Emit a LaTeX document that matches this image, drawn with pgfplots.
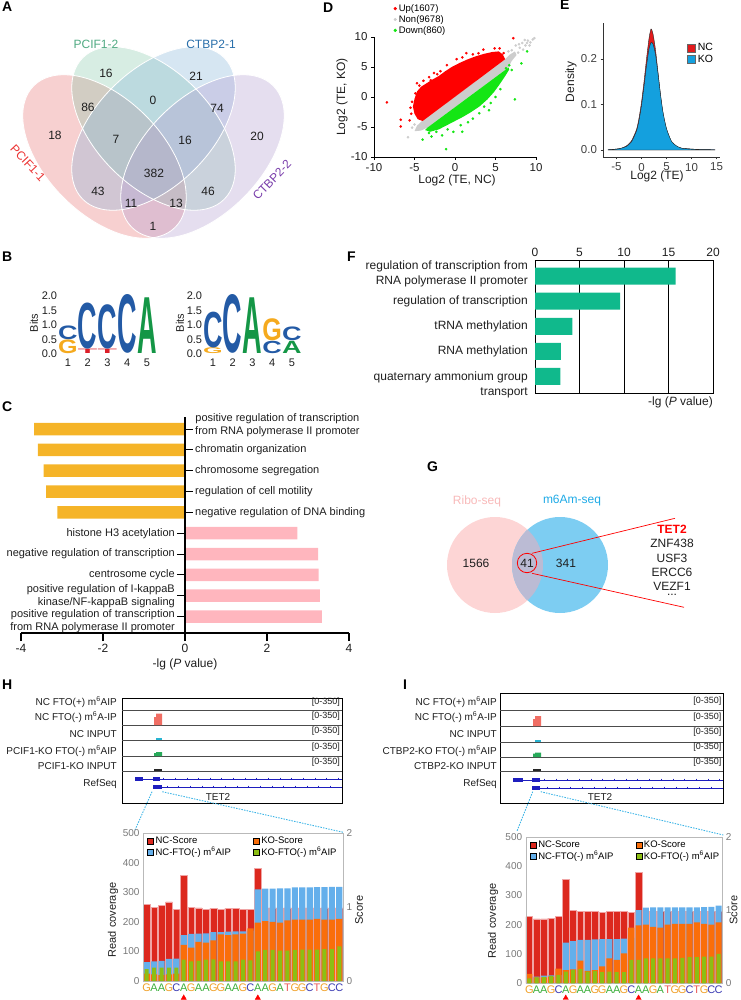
\documentclass[border=0pt]{standalone}
\usepackage{pgfplots}
\pgfplotsset{compat=1.18}
\usepackage{pgfplotstable}
\usepackage{fontspec}
\setmainfont{Liberation Sans}
\usepackage{graphicx}

\definecolor{vpink}{RGB}{230,112,112}
\definecolor{vgreen}{RGB}{135,200,169}
\definecolor{vblue}{RGB}{132,179,217}
\definecolor{vpurple}{RGB}{176,155,207}
\definecolor{tpink}{RGB}{235,50,50}
\definecolor{tgreen}{RGB}{80,170,130}
\definecolor{tblue}{RGB}{40,110,170}
\definecolor{tpurple}{RGB}{120,60,170}
\definecolor{dred}{RGB}{255,0,0}
\definecolor{dgrey}{RGB}{205,205,205}
\definecolor{dgreen}{RGB}{20,230,20}
\definecolor{ncred}{RGB}{227,26,28}
\definecolor{koblue}{RGB}{20,160,222}
\definecolor{lC}{RGB}{35,90,165}
\definecolor{lG}{RGB}{245,170,30}
\definecolor{lT}{RGB}{220,30,40}
\definecolor{lA}{RGB}{20,150,70}
\definecolor{corange}{RGB}{245,180,40}
\definecolor{cpink}{RGB}{255,182,190}
\definecolor{fteal}{RGB}{16,185,140}
\definecolor{gpink}{RGB}{253,213,213}
\definecolor{gblue}{RGB}{125,205,242}
\definecolor{glens}{RGB}{187,187,212}
\definecolor{gtxtpink}{RGB}{248,185,185}
\definecolor{gtxtblue}{RGB}{30,170,230}
\definecolor{bred}{RGB}{220,40,30}
\definecolor{bblue}{RGB}{100,175,235}
\definecolor{borange}{RGB}{250,110,10}
\definecolor{bgreen}{RGB}{140,190,20}
\definecolor{bedge}{RGB}{240,165,165}
\definecolor{sG}{RGB}{240,160,40}
\definecolor{sA}{RGB}{60,175,60}
\definecolor{sC}{RGB}{60,60,180}
\definecolor{sT}{RGB}{235,90,90}
\definecolor{tk}{RGB}{120,120,120}
\definecolor{refblue}{RGB}{30,30,190}
\definecolor{dashblue}{RGB}{60,180,230}
\definecolor{pkred}{RGB}{240,110,100}
\definecolor{pkcyan}{RGB}{40,180,210}
\definecolor{pkgreen}{RGB}{40,170,90}
\definecolor{txt}{RGB}{30,30,30}

\newcommand\fs[2]{\fontsize{#1}{#2}\selectfont}
\newcommand\plab[3]{\node[anchor=north west, inner sep=0pt, font=\fs{14}{14}\bfseries] at (#1,-#2) {#3};}
\newcommand\LL[5]{\node[anchor=south, inner sep=0pt, text=#5] at (axis cs:#1,#2) {\resizebox{19.5pt}{#3pt}{\bfseries #4}};}
\newcommand\sqG{\textcolor{sG}{G}}
\newcommand\sqA{\textcolor{sA}{A}}
\newcommand\sqC{\textcolor{sC}{C}}
\newcommand\sqT{\textcolor{sT}{T}}
\newcommand\mA{m\textsuperscript{6}A}

\pgfplotsset{every axis/.append style={/pgf/number format/assume math mode=true},
  Hb/.style={at={(143pt,-981pt)}, anchor=south west, scale only axis, width=200pt, height=148pt, xmin=0.5, xmax=27.5},
  Ib/.style={at={(525.7pt,-983.3pt)}, anchor=south west, scale only axis, width=196.6pt, height=146.6pt, xmin=0.5, xmax=27.5},
  sc/.style={ymin=0, ymax=2},
  cv/.style={ymin=0, ymax=500},
  covaxis/.style={clip=false, axis line style={draw=gray!55}, ytick={0,100,...,500}, ytick pos=left, major tick length=0pt,
    xtick={1,...,27},
    xticklabels={\sqG,\sqA,\sqA,\sqG,\sqC,\sqA,\sqG,\sqA,\sqA,\sqG,\sqG,\sqA,\sqA,\sqG,\sqC,\sqA,\sqA,\sqG,\sqA,\sqT,\sqG,\sqG,\sqC,\sqT,\sqG,\sqC,\sqC},
    xticklabel style={font=\fs{11}{12}, yshift=1pt},
    yticklabel style={font=\fs{10}{11}, text=tk},
    legend columns=2, legend cell align=left,
    legend style={at={(axis description cs:0.015,0.995)}, anchor=north west, draw=none, fill=none, font=\fs{9.5}{10}, inner sep=1pt, row sep=-2pt, /tikz/every even column/.append style={column sep=20pt}},
    legend image code/.code={\fill[##1] (0pt,-3pt) rectangle (6pt,3pt);}},
  scaxis/.style={hide x axis, axis y line*=right, axis line style={draw=gray!55}, ytick={0,1,2}, major tick length=0pt, yticklabel style={font=\fs{10}{11}, text=tk}},
}

\pgfplotstableread{
pos ncs kos ncf kof
1 1.04 0.10 64 40
2 1.00 0.09 66 45
3 1.02 0.08 68 45
4 1.07 0.09 75 45
5 0.97 0.10 76 45
6 1.43 0.49 155 72
7 1.00 0.45 159 66
8 0.99 0.53 160 68
9 0.97 0.52 161 72
10 0.98 0.55 165 73
11 0.97 0.63 165 66
12 0.98 0.62 167 66
13 0.98 0.63 168 66
14 0.97 0.64 168 72
15 0.97 0.71 170 70
16 1.52 0.79 310 100
17 0.99 0.81 312 105
18 0.99 0.80 312 105
19 0.99 0.79 313 103
20 0.99 0.82 313 103
21 0.99 0.83 316 105
22 0.99 0.83 316 106
23 0.99 0.83 316 106
24 0.99 0.84 317 106
25 0.99 0.83 317 108
26 0.99 0.83 318 108
27 0.99 0.84 318 117
}\Hdata

\pgfplotstableread{
pos ncs kos ncf kof
1 0.91 0.13 23 17
2 0.88 0.08 23 20
3 0.88 0.08 26 22
4 0.89 0.09 27 25
5 0.91 0.20 28 28
6 1.42 0.18 139 40
7 1.00 0.19 144 45
8 0.98 0.31 148 48
9 0.98 0.17 148 40
10 0.98 0.18 150 42
11 0.97 0.23 151 38
12 0.98 0.34 151 40
13 0.98 0.32 151 38
14 0.98 0.41 152 38
15 0.97 0.76 155 80
16 1.51 0.79 250 80
17 0.98 0.80 258 85
18 0.98 0.77 259 85
19 0.98 0.76 259 85
20 0.98 0.80 259 85
21 0.98 0.81 259 85
22 0.98 0.81 259 87
23 0.98 0.81 259 89
24 0.98 0.83 259 89
25 0.98 0.81 260 91
26 0.98 0.80 261 91
27 0.98 0.83 265 100
}\Idata

\begin{document}
\begin{tikzpicture}[x=1pt,y=1pt]
\path[use as bounding box] (0,0) rectangle (740,-1000);

%%%%%%%%%%%%%%%% A %%%%%%%%%%%%%%%%
\plab{2}{2}{A}
\fill[vpink, fill opacity=.33, rotate around={-45:(104.5,-156.5)}] (104.5,-156.5) ellipse (100 and 58);
\fill[vgreen, fill opacity=.33, rotate around={-45:(153.5,-128.5)}] (153.5,-128.5) ellipse (100 and 58);
\fill[vblue, fill opacity=.33, rotate around={45:(153.5,-128.5)}] (153.5,-128.5) ellipse (100 and 58);
\fill[vpurple, fill opacity=.33, rotate around={45:(202.5,-156.5)}] (202.5,-156.5) ellipse (100 and 58);
\draw[white, line width=0.8pt, rotate around={-45:(104.5,-156.5)}] (104.5,-156.5) ellipse (100 and 58);
\draw[white, line width=0.8pt, rotate around={-45:(153.5,-128.5)}] (153.5,-128.5) ellipse (100 and 58);
\draw[white, line width=0.8pt, rotate around={45:(153.5,-128.5)}] (153.5,-128.5) ellipse (100 and 58);
\draw[white, line width=0.8pt, rotate around={45:(202.5,-156.5)}] (202.5,-156.5) ellipse (100 and 58);
\foreach \x/\y/\t in {106/73/16, 196/76/21, 88/107/86, 153/100/0, 217/108/74, 55/135/18, 116/139/7, 185/140/16, 257/136/20, 154/173/382, 98/191/43, 208/191/46, 131/203/11, 176/203/13, 153/226/1}
  \node[font=\fs{12}{14}, text=txt] at (\x,-\y) {\t};
\node[font=\fs{12}{14}, text=tgreen] at (96,-44) {PCIF1-2};
\node[font=\fs{12}{14}, text=tblue] at (211,-44) {CTBP2-1};
\node[font=\fs{12}{14}, text=tpink, rotate=-47] at (28,-163) {PCIF1-1};
\node[font=\fs{12}{14}, text=tpurple, rotate=46] at (272,-180) {CTBP2-2};

%%%%%%%%%%%%%%%% D %%%%%%%%%%%%%%%%
\plab{323}{3}{D}
\begin{axis}[at={(374pt,-157pt)}, anchor=south west, scale only axis, width=162pt, height=120pt,
  xmin=-10, xmax=10, ymin=-10, ymax=10, axis x line*=bottom, axis y line*=left, axis line style={-, line width=0.6pt},
  xtick={-10,-5,0,5,10}, ytick={-10,-5,0,5,10}, tick align=outside, major tick length=3pt, tick style={line width=0.6pt, black},
  ticklabel style={font=\fs{11.5}{12}, text=txt}, clip=false,
  legend style={at={(axis description cs:0.12,1.29)}, anchor=north west, draw=none, fill=none, font=\fs{9.5}{10}, inner sep=0pt, row sep=-1.5pt},
  legend cell align=left,
  legend image code/.code={\fill[#1] (3pt,0pt) circle (1.4pt);}]
\addlegendimage{dred}
\addlegendimage{dgrey}
\addlegendimage{dgreen}
\addplot[fill=dgrey, draw=none, forget plot] coordinates {(-5.0,-5.7) (-4.7,-4.8) (-4.1,-4.0) (6.2,6.3) (6.8,7.1) (7.4,7.6) (7.6,7.0) (7.0,6.0) (6.6,4.9) (-3.4,-5.1) (-4.2,-5.6)} -- cycle;
\addplot[fill=dred, draw=none, forget plot] coordinates {(-4.0,-4.0) (-4.6,-3.7) (-5.0,-2.8) (-5.2,-1.6) (-5.0,-0.3) (-4.7,0.9) (-4.2,1.7) (-3.5,2.3) (-2.8,2.9) (-2.0,3.5) (-1.2,4.3) (-0.4,5.0) (0.6,5.7) (1.6,6.3) (2.6,6.8) (3.6,7.2) (4.6,7.5) (5.4,7.6) (5.9,7.1) (6.2,6.3)} -- cycle;
\addplot[fill=dgreen, draw=none, forget plot] coordinates {(-3.4,-5.1) (-3.7,-5.5) (-3.1,-5.8) (-2.0,-5.4) (-1.0,-4.7) (0,-4.0) (1.0,-3.3) (2.0,-2.5) (3.0,-1.6) (4.0,-0.4) (4.8,0.8) (5.5,2.1) (6.2,3.5) (6.7,4.6) (6.6,4.9)} -- cycle;
\addplot[only marks, mark=*, mark size=1.1pt, dgrey, forget plot] coordinates {(-5.8,-6.7) (-5.3,-5.1) (-4.5,-5.4) (-5.0,-4.6) (7.0,7.8) (7.5,8.6) (8.0,8.2) (8.3,9.0) (8.7,8.6) (9.0,9.4) (9.3,9.1) (9.6,9.6) (9.8,9.8) (8.6,9.5) (7.8,7.4) (7.2,6.8) (9.2,8.6) (6.6,7.6) (8.4,7.9) (7.9,8.8) (8.9,9.0)};
\addplot[only marks, mark=*, mark size=1.1pt, dred, forget plot] coordinates {(-8.4,-0.9) (-6.7,-3.8) (-6.7,-4.9) (-5.6,-3.9) (-5.4,-2.8) (-5.5,-1.8) (-4.9,0.6) (-4.7,2.3) (-3.9,2.7) (-3.2,3.3) (-2.6,4.0) (-1.8,4.3) (-1.0,5.3) (0.2,6.3) (1.4,7.3) (2.2,7.1) (2.9,7.3) (3.5,7.9) (4.5,7.0) (4.9,8.1) (5.5,8.1) (6.0,7.3) (7.2,9.8) (-3.0,2.8) (0.9,6.6) (-2.2,3.8) (-5.3,-0.8) (-4.4,1.9)};
\addplot[only marks, mark=*, mark size=1.1pt, dgreen, forget plot] coordinates {(-1.1,-8.7) (-4.0,-7.1) (7.4,-0.4) (8.9,7.6) (8.2,5.6) (-2.3,-5.8) (-0.9,-5.4) (-0.2,-5.8) (0.7,-4.7) (1.6,-4.2) (2.2,-3.6) (3.0,-2.7) (3.6,-1.6) (4.4,-1.0) (5.0,0.0) (5.6,1.3) (6.3,4.8) (6.7,5.3) (7.0,4.5) (-3.2,-6.0) (-1.6,-6.4) (4.2,-2.2) (0.9,-5.8) (-2.9,-6.6)};
\legend{Up(1607), Non(9678), Down(860)}
\end{axis}
\node[font=\fs{12}{14}, text=txt] at (457,-180) {Log2 (TE, NC)};
\node[font=\fs{12}{14}, text=txt, rotate=90] at (342,-97) {Log2 (TE, KO)};

%%%%%%%%%%%%%%%% E %%%%%%%%%%%%%%%%
\plab{560}{0}{E}
\begin{axis}[at={(603pt,-157pt)}, anchor=south west, scale only axis, width=117pt, height=134pt,
  xmin=-7.7, xmax=15.7, ymin=-0.0154, ymax=0.2791, axis x line*=bottom, axis y line*=left,
  axis line style={-, line width=0.7pt, black!80},
  xtick={-5,0,5,10,15}, ytick={0,0.1,0.2}, tick align=outside, major tick length=2.5pt, tick style={black!80},
  yticklabel style={/pgf/number format/fixed, /pgf/number format/fixed zerofill, /pgf/number format/precision=1},
  ticklabel style={font=\fs{11.5}{12}, text=black!75},
  legend style={at={(axis description cs:0.72,0.865)}, anchor=north west, draw=none, fill=none, font=\fs{10.5}{11}, inner sep=0pt, row sep=-1pt},
  legend cell align=left,
  legend image code/.code={\draw[#1, line width=0.4pt] (0pt,-4pt) rectangle (8pt,4pt);}]
\addlegendimage{fill=ncred, draw=black!60}
\addlegendimage{fill=koblue, draw=black!60}
\addplot[fill=ncred, draw=black!85, line width=0.4pt, smooth, tension=0.4, forget plot] coordinates {(-6.7,0.0005) (-5,0.002) (-4,0.004) (-3,0.009) (-2,0.02) (-1,0.045) (-0.5,0.07) (0,0.105) (0.5,0.15) (1,0.2) (1.5,0.245) (1.9,0.266) (2.3,0.255) (2.8,0.22) (3.3,0.17) (3.8,0.12) (4.3,0.08) (5,0.045) (6,0.018) (7,0.008) (8,0.004) (10,0.002) (12,0.001) (14.7,0.0005)} \closedcycle;
\addplot[fill=koblue, draw=black!85, line width=0.4pt, smooth, tension=0.4, forget plot] coordinates {(-6.7,0.0005) (-5,0.002) (-4,0.004) (-3,0.008) (-2,0.018) (-1,0.042) (-0.5,0.065) (0,0.098) (0.5,0.14) (1,0.185) (1.5,0.222) (1.9,0.236) (2.3,0.233) (2.8,0.21) (3.3,0.168) (3.8,0.122) (4.3,0.083) (5,0.047) (6,0.019) (7,0.009) (8,0.004) (10,0.002) (12,0.001) (14.7,0.0005)} \closedcycle;
\legend{NC, KO}
\end{axis}
\node[font=\fs{12}{14}, text=txt, rotate=90] at (571,-82) {Density};
\node[font=\fs{12}{14}, text=txt] at (657,-176) {Log2 (TE)};

%%%%%%%%%%%%%%%% B %%%%%%%%%%%%%%%%
\plab{2}{252}{B}
\begin{axis}[at={(58.1pt,-354pt)}, anchor=south west, scale only axis, width=98.75pt, height=58pt,
  xmin=0.5, xmax=5.5, ymin=0, ymax=2, axis line style={draw=none}, major tick length=0pt,
  xtick={1,2,3,4,5}, ytick={0,0.5,1,1.5,2},
  yticklabel style={/pgf/number format/fixed, /pgf/number format/fixed zerofill, /pgf/number format/precision=1, xshift=2.5pt},
  xticklabel style={yshift=-1pt},
  ticklabel style={font=\fs{11}{12}, text=txt}, clip=false]
\LL{1}{0}{13.6}{G}{lG}
\LL{1}{0.5}{13.6}{C}{lC}
\LL{2}{0}{4.4}{T}{lT}
\LL{2}{0.15}{45.5}{C}{lC}
\LL{3}{0}{4.4}{T}{lT}
\LL{3}{0.15}{43.8}{C}{lC}
\LL{4}{0}{58}{C}{lC}
\LL{5}{0}{55.7}{A}{lA}
\end{axis}
\node[font=\fs{11}{12}, text=txt, rotate=90] at (34,-323) {Bits};
\begin{axis}[at={(203.1pt,-354pt)}, anchor=south west, scale only axis, width=98.75pt, height=58pt,
  xmin=0.5, xmax=5.5, ymin=0, ymax=2, axis line style={draw=none}, major tick length=0pt,
  xtick={1,2,3,4,5}, ytick={0,0.5,1,1.5,2},
  yticklabel style={/pgf/number format/fixed, /pgf/number format/fixed zerofill, /pgf/number format/precision=1, xshift=2.5pt},
  xticklabel style={yshift=-1pt},
  ticklabel style={font=\fs{11}{12}, text=txt}, clip=false]
\LL{1}{0}{5.8}{G}{lG}
\LL{1}{0.2}{35.4}{C}{lC}
\LL{2}{0}{58}{C}{lC}
\LL{3}{0}{55.7}{A}{lA}
\LL{4}{0}{12.2}{C}{lC}
\LL{4}{0.45}{21.8}{G}{lG}
\LL{5}{0}{12.2}{A}{lA}
\LL{5}{0.45}{13.6}{C}{lC}
\end{axis}
\node[font=\fs{11}{12}, text=txt, rotate=90] at (180,-323) {Bits};

%%%%%%%%%%%%%%%% F %%%%%%%%%%%%%%%%
\plab{347}{252}{F}
\begin{axis}[at={(535pt,-393pt)}, anchor=south west, scale only axis, width=178pt, height=133pt,
  xmin=0, xmax=20, ymin=-5.66, ymax=-0.36, xtick={0,5,10,15,20}, xtick pos=right, xticklabel pos=right,
  major tick length=0pt, ytick=\empty, xmajorgrids, grid style={black, line width=0.6pt},
  axis line style={line width=0.8pt}, ticklabel style={font=\fs{12}{12}, text=txt}]
\addplot[xbar, bar shift=0pt, bar width=17pt, fill=fteal, draw=none] coordinates {(15.8,-1) (9.55,-2) (4.2,-3) (2.9,-4) (2.85,-5)};
\end{axis}
\begin{scope}[every node/.style={font=\fs{12}{15}, text=txt, anchor=east, inner sep=0pt, align=right}]
\node at (528,-274) {regulation of transcription from\\RNA polymerase II promoter};
\node at (528,-301.2) {regulation of transcription};
\node at (528,-326.3) {tRNA methylation};
\node at (528,-351.4) {RNA methylation};
\node at (528,-384.5) {quaternary ammonium group\\transport};
\node at (713,-402) {-lg (\textit{P} value)};
\end{scope}

%%%%%%%%%%%%%%%% C %%%%%%%%%%%%%%%%
\plab{2}{402}{C}
\begin{axis}[at={(21pt,-633pt)}, anchor=south west, scale only axis, width=328pt, height=216pt,
  xmin=-4, xmax=4, ymin=-10.79, ymax=-0.42,
  axis x line*=bottom, axis y line=none, axis line style={-, line width=1.1pt},
  xtick={-4,-2,0,2,4}, tick align=outside, major tick length=8pt, xtick style={line width=1.1pt, black},
  ticklabel style={font=\fs{12}{12}, text=txt}, ytick=\empty, clip=false]
\addplot[xbar, bar shift=0pt, bar width=12.5pt, fill=corange, draw=none] coordinates {(-3.68,-1) (-3.59,-2) (-3.45,-3) (-3.39,-4) (-3.11,-5)};
\addplot[xbar, bar shift=0pt, bar width=12.5pt, fill=cpink, draw=none] coordinates {(2.74,-6) (3.25,-7) (3.26,-8) (3.29,-9) (3.34,-10)};
\addplot[line width=1.1pt, black] coordinates {(0,-0.42) (0,-10.79)};
\end{axis}
\foreach \y in {429.1,449.9,470.8,491.6,512.4} \draw[line width=0.9pt] (185,-\y) -- (193,-\y);
\foreach \y in {533.2,554.1,574.9,595.7,616.6} \draw[line width=0.9pt] (177,-\y) -- (185,-\y);
\begin{scope}[every node/.style={font=\fs{11}{13}, text=txt, inner sep=0pt}]
\node[anchor=west, align=center] at (195,-425.5) {positive regulation of transcription\\from RNA polymerase II promoter};
\node[anchor=west] at (195,-449.9) {chromatin organization};
\node[anchor=west] at (195,-470.8) {chromosome segregation};
\node[anchor=west] at (195,-491.6) {regulation of cell motility};
\node[anchor=west] at (195,-512.4) {negative regulation of DNA binding};
\node[anchor=east] at (175,-533.2) {histone H3 acetylation};
\node[anchor=east] at (175,-554.1) {negative regulation of transcription};
\node[anchor=east] at (175,-574.9) {centrosome cycle};
\node[anchor=east, align=right] at (175,-596) {positive regulation of I-kappaB\\kinase/NF-kappaB signaling};
\node[anchor=east, align=right] at (175,-621.5) {positive regulation of transcription\\from RNA polymerase II promoter};
\end{scope}
\node[font=\fs{12}{14}, text=txt] at (185,-664) {-lg (\textit{P} value)};

%%%%%%%%%%%%%%%% G %%%%%%%%%%%%%%%%
\plab{427}{462}{G}
\fill[gpink] (495,-565) circle (48);
\fill[gblue] (560,-565) circle (48);
\begin{scope}
\clip (495,-565) circle (48);
\fill[glens] (560,-565) circle (48);
\end{scope}
\node[font=\fs{12}{14}, text=gtxtpink] at (477,-501) {Ribo-seq};
\node[font=\fs{12}{14}, text=gtxtblue] at (572,-501) {m6Am-seq};
\node[font=\fs{12}{14}, text=txt] at (476,-563) {1566};
\node[font=\fs{12}{14}, text=txt] at (527,-563) {41};
\node[font=\fs{12}{14}, text=txt] at (566,-563) {341};
\draw[red, line width=0.8pt] (527,-563) circle (9.7);
\draw[red, line width=0.7pt] (532,-553.3) -- (675,-518.3);
\draw[red, line width=0.7pt] (532,-573.3) -- (684,-607.3);
\begin{scope}[every node/.style={font=\fs{12}{14}, text=txt}]
\node[text=red, font=\fs{12}{14}\bfseries] at (672,-529) {TET2};
\node at (672,-543) {ZNF438};
\node at (672,-558) {USF3};
\node at (672,-572) {ERCC6};
\node at (672,-586) {VEZF1};
\node at (672,-595) {...};
\end{scope}

%%%%%%%%%%%%%%%% H %%%%%%%%%%%%%%%%
\plab{2}{680}{H}
\begin{axis}[at={(122pt,-803pt)}, anchor=south west, scale only axis, width=220pt, height=105pt,
  xmin=0, xmax=220, ymin=-105, ymax=0, xtick=\empty, ytick=\empty, axis line style={line width=0.7pt}, clip=false]
\addplot[black!70, line width=0.5pt] coordinates {(0,-12) (220,-12)};
\addplot[black!70, line width=0.5pt] coordinates {(0,-27) (220,-27)};
\addplot[black!70, line width=0.5pt] coordinates {(0,-42) (220,-42)};
\addplot[black!70, line width=0.5pt] coordinates {(0,-58) (220,-58)};
\addplot[black!70, line width=0.5pt] coordinates {(0,-73) (220,-73)};
\addplot[fill=pkred, draw=none] coordinates {(32,-27) (32,-19) (34,-19) (34,-15.5) (40,-15.5) (40,-27)} -- cycle;
\addplot[fill=pkcyan, draw=none] coordinates {(34,-42) (34,-39.5) (40,-39.5) (40,-42)} -- cycle;
\addplot[fill=pkgreen, draw=none] coordinates {(32,-58) (32,-55) (34,-55) (34,-54) (40,-54) (40,-58)} -- cycle;
\addplot[fill=black!85, draw=none] coordinates {(32,-73) (32,-70.8) (40,-70.8) (40,-73)} -- cycle;
\addplot[refblue, line width=0.7pt] coordinates {(13,-81) (220,-81)};
\addplot[fill=refblue, draw=none] coordinates {(13,-79.3) (21,-79.3) (21,-82.7) (13,-82.7)} -- cycle;
\addplot[fill=refblue, draw=none] coordinates {(31,-79.3) (38,-79.3) (38,-82.7) (31,-82.7)} -- cycle;
\addplot[refblue, line width=0.7pt] coordinates {(31,-89) (220,-89)};
\addplot[fill=refblue, draw=none] coordinates {(31,-87.3) (40,-87.3) (40,-90.7) (31,-90.7)} -- cycle;
\addplot[only marks, mark=|, mark size=1.4pt, refblue] coordinates {(41.5,-81) (53,-81) (64.7,-81) (76.3,-81) (88,-81) (99.6,-81) (111.3,-81) (122.9,-81) (134.6,-81) (146.2,-81) (157.9,-81) (169.5,-81) (181.2,-81) (192.8,-81) (204.5,-81) (216,-81)
 (45,-89) (56.6,-89) (68.3,-89) (79.9,-89) (91.6,-89) (103.2,-89) (114.9,-89) (126.5,-89) (138.2,-89) (149.8,-89) (161.5,-89) (173.1,-89) (184.8,-89) (196.4,-89) (208.1,-89)};
\end{axis}
\begin{scope}[every node/.style={font=\fs{10}{11}, text=txt, anchor=east, inner sep=0pt}]
\node at (117,-702) {NC FTO(+) \mA IP};
\node at (117,-717) {NC FTO(-) \mA-IP};
\node at (117,-734) {NC INPUT};
\node at (117,-751) {PCIF1-KO FTO(-) \mA IP};
\node at (117,-766) {PCIF1-KO INPUT};
\node at (117,-784) {RefSeq};
\end{scope}
\begin{scope}[every node/.style={font=\fs{9}{10}, text=txt, anchor=east, inner sep=0pt}]
\foreach \y in {702,716,731,747,762} \node at (340,-\y) {[0-350]};
\end{scope}
\node[font=\fs{10}{11}, text=txt] at (218,-797) {TET2};
\draw[dashblue, line width=0.9pt, dash pattern=on 1.5pt off 1.2pt] (152,-791.7) -- (135,-830);
\draw[dashblue, line width=0.9pt, dash pattern=on 1.5pt off 1.2pt] (162.3,-791.7) -- (343.3,-832.3);

\begin{axis}[Hb, sc, hide axis]
\addplot[ybar, bar shift=0pt, bar width=6.8pt, fill=bred, draw=bedge, line width=0.4pt] table[x=pos,y=ncs]{\Hdata};
\end{axis}
\begin{axis}[Hb, cv, hide axis]
\addplot[ybar, bar shift=0pt, bar width=6.2pt, fill=bblue, draw=none] table[x=pos,y=ncf]{\Hdata};
\end{axis}
\begin{axis}[Hb, sc, hide axis]
\addplot[ybar, bar shift=0pt, bar width=6.2pt, fill=borange, draw=none] table[x=pos,y=kos]{\Hdata};
\end{axis}
\begin{axis}[Hb, cv, covaxis]
\addlegendimage{fill=bred}
\addlegendimage{fill=borange}
\addlegendimage{fill=bblue}
\addlegendimage{fill=bgreen}
\addplot[ybar, bar shift=0pt, bar width=4pt, fill=bgreen, draw=none, forget plot] table[x=pos,y=kof]{\Hdata};
\addplot[only marks, mark=triangle*, mark size=3pt, red, forget plot] coordinates {(6,-57) (16,-57)};
\legend{NC-Score, KO-Score, NC-FTO(-) \mA IP, KO-FTO(-) \mA IP}
\end{axis}
\begin{axis}[Hb, sc, scaxis]
\addplot[draw=none] coordinates {(1,0)};
\end{axis}
\node[font=\fs{11}{12}, text=txt, rotate=90] at (113,-920) {Read coverage};
\node[font=\fs{11}{12}, text=txt, rotate=90] at (359,-910) {Score};

%%%%%%%%%%%%%%%% I %%%%%%%%%%%%%%%%
\plab{403}{680}{I}
\begin{axis}[at={(500pt,-803pt)}, anchor=south west, scale only axis, width=223pt, height=110pt,
  xmin=0, xmax=223, ymin=-110, ymax=0, xtick=\empty, ytick=\empty, axis line style={line width=0.7pt}, clip=false]
\addplot[black!70, line width=0.5pt] coordinates {(0,-17) (223,-17)};
\addplot[black!70, line width=0.5pt] coordinates {(0,-33) (223,-33)};
\addplot[black!70, line width=0.5pt] coordinates {(0,-49) (223,-49)};
\addplot[black!70, line width=0.5pt] coordinates {(0,-64) (223,-64)};
\addplot[black!70, line width=0.5pt] coordinates {(0,-78) (223,-78)};
\addplot[fill=pkred, draw=none] coordinates {(33,-33) (33,-26) (35,-26) (35,-23) (41,-23) (41,-33)} -- cycle;
\addplot[fill=pkcyan, draw=none] coordinates {(35,-49) (35,-46.5) (41,-46.5) (41,-49)} -- cycle;
\addplot[fill=pkgreen, draw=none] coordinates {(33,-64) (33,-60.5) (35,-60.5) (35,-59.5) (41,-59.5) (41,-64)} -- cycle;
\addplot[fill=black!85, draw=none] coordinates {(33,-78) (33,-75.8) (41,-75.8) (41,-78)} -- cycle;
\addplot[refblue, line width=0.7pt] coordinates {(13,-87) (223,-87)};
\addplot[fill=refblue, draw=none] coordinates {(13,-85.3) (23,-85.3) (23,-88.7) (13,-88.7)} -- cycle;
\addplot[fill=refblue, draw=none] coordinates {(32,-85.3) (40,-85.3) (40,-88.7) (32,-88.7)} -- cycle;
\addplot[refblue, line width=0.7pt] coordinates {(32,-95) (223,-95)};
\addplot[fill=refblue, draw=none] coordinates {(32,-93.3) (40,-93.3) (40,-96.7) (32,-96.7)} -- cycle;
\addplot[only marks, mark=|, mark size=1.4pt, refblue] coordinates {(44,-87) (55.7,-87) (67.4,-87) (79.1,-87) (90.8,-87) (102.5,-87) (114.2,-87) (125.9,-87) (137.6,-87) (149.3,-87) (161,-87) (172.7,-87) (184.4,-87) (196.1,-87) (207.8,-87) (219.5,-87)
 (47,-95) (58.7,-95) (70.4,-95) (82.1,-95) (93.8,-95) (105.5,-95) (117.2,-95) (128.9,-95) (140.6,-95) (152.3,-95) (164,-95) (175.7,-95) (187.4,-95) (199.1,-95) (210.8,-95)};
\end{axis}
\begin{scope}[every node/.style={font=\fs{10}{11}, text=txt, anchor=east, inner sep=0pt}]
\node at (497,-702) {NC FTO(+) \mA IP};
\node at (497,-717) {NC FTO(-) \mA-IP};
\node at (497,-734) {NC INPUT};
\node at (497,-751) {CTBP2-KO FTO(-) \mA IP};
\node at (497,-766) {CTBP2-KO INPUT};
\node at (497,-784) {RefSeq};
\end{scope}
\begin{scope}[every node/.style={font=\fs{9}{10}, text=txt, anchor=east, inner sep=0pt}]
\foreach \y in {701,717,732,747,762} \node at (721.5,-\y) {[0-350]};
\end{scope}
\node[font=\fs{10}{11}, text=txt] at (600,-797) {TET2};
\draw[dashblue, line width=0.9pt, dash pattern=on 1.5pt off 1.2pt] (532.7,-791.7) -- (516.7,-831.7);
\draw[dashblue, line width=0.9pt, dash pattern=on 1.5pt off 1.2pt] (540.7,-791.7) -- (723.3,-835);

\begin{axis}[Ib, sc, hide axis]
\addplot[ybar, bar shift=0pt, bar width=6.7pt, fill=bred, draw=bedge, line width=0.4pt] table[x=pos,y=ncs]{\Idata};
\end{axis}
\begin{axis}[Ib, cv, hide axis]
\addplot[ybar, bar shift=0pt, bar width=6.1pt, fill=bblue, draw=none] table[x=pos,y=ncf]{\Idata};
\end{axis}
\begin{axis}[Ib, sc, hide axis]
\addplot[ybar, bar shift=0pt, bar width=6.1pt, fill=borange, draw=none] table[x=pos,y=kos]{\Idata};
\end{axis}
\begin{axis}[Ib, cv, covaxis]
\addlegendimage{fill=bred}
\addlegendimage{fill=borange}
\addlegendimage{fill=bblue}
\addlegendimage{fill=bgreen}
\addplot[ybar, bar shift=0pt, bar width=4pt, fill=bgreen, draw=none, forget plot] table[x=pos,y=kof]{\Idata};
\addplot[only marks, mark=triangle*, mark size=3pt, red, forget plot] coordinates {(6,-50) (16,-50)};
\legend{NC-Score, KO-Score, NC-FTO(-) \mA IP, KO-FTO(-) \mA IP}
\end{axis}
\begin{axis}[Ib, sc, scaxis]
\addplot[draw=none] coordinates {(1,0)};
\end{axis}
\node[font=\fs{11}{12}, text=txt, rotate=90] at (493,-921) {Read coverage};
\node[font=\fs{11}{12}, text=txt, rotate=90] at (733.5,-910) {Score};

\end{tikzpicture}
\end{document}
